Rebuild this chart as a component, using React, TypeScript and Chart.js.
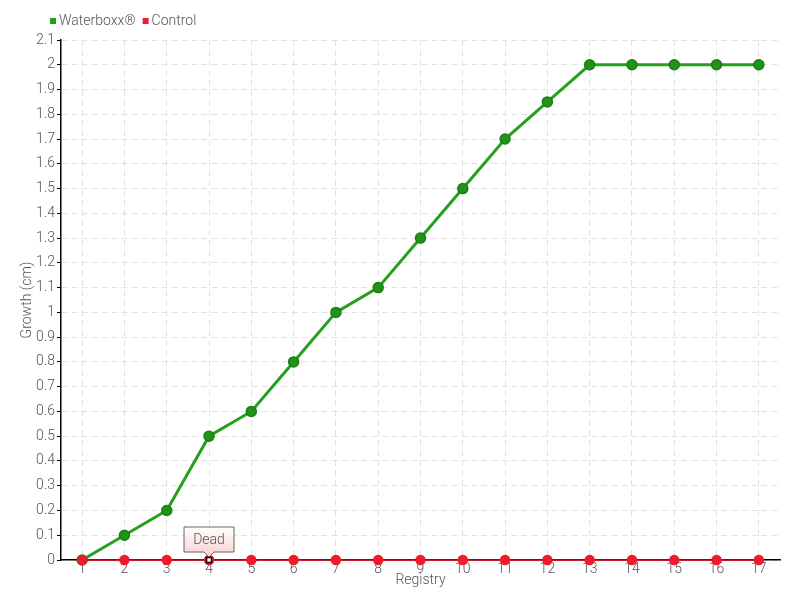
import React, { useEffect, useRef } from "react";
import { Chart, registerables } from "chart.js";

Chart.register(...registerables);

const categories = ["1", "2", "3", "4", "5", "6", "7", "8", "9", "10", "11", "12", "13", "14", "15", "16", "17"];
const waterboxx = [0, 0.1, 0.2, 0.5, 0.6, 0.8, 1.0, 1.1, 1.3, 1.5, 1.7, 1.85, 2, 2, 2, 2, 2];
const control = [0, 0, 0, 0, 0, 0, 0, 0, 0, 0, 0, 0, 0, 0, 0, 0, 0];
const deadIndex = 3;
const deadLabel = "Dead";

const FONT = "Roboto, 'DejaVu Sans Condensed', sans-serif";
const TEXT = "#555";
const WEIGHT = "300";

const overlayPlugin = {
  id: "overlay",
  afterDatasetsDraw(chart: any) {
    const ctx = chart.ctx;
    const meta = chart.getDatasetMeta(1);
    const pt = meta.data[deadIndex];
    if (pt) {
      const x = pt.x, y = pt.y;
      ctx.save();
      ctx.fillStyle = "#fff";
      ctx.strokeStyle = "#000";
      ctx.lineWidth = 1.5;
      ctx.fillRect(x - 2.5, y - 2.5, 5, 5);
      ctx.strokeRect(x - 2.5, y - 2.5, 5, 5);
      const w = 50, h = 25;
      const bx = x - w / 2, by = y - 33;
      const grad = ctx.createLinearGradient(0, by, 0, by + h);
      grad.addColorStop(0, "#fff");
      grad.addColorStop(1, "#fcd6d6");
      ctx.beginPath();
      ctx.moveTo(bx, by);
      ctx.lineTo(bx + w, by);
      ctx.lineTo(bx + w, by + h);
      ctx.lineTo(x + 5, by + h);
      ctx.lineTo(x, by + h + 5);
      ctx.lineTo(x - 5, by + h);
      ctx.lineTo(bx, by + h);
      ctx.closePath();
      ctx.fillStyle = grad;
      ctx.fill();
      ctx.strokeStyle = "#666";
      ctx.lineWidth = 1;
      ctx.stroke();
      ctx.fillStyle = TEXT;
      ctx.font = WEIGHT + " 14px " + FONT;
      ctx.textAlign = "center";
      ctx.textBaseline = "middle";
      ctx.fillText(deadLabel, x, by + h / 2 + 1);
      ctx.restore();
    }
    ctx.save();
    ctx.font = WEIGHT + " 14px " + FONT;
    ctx.textBaseline = "middle";
    ctx.textAlign = "left";
    let lx = 50;
    const ly = 21;
    chart.data.datasets.forEach((ds: any) => {
      ctx.fillStyle = ds.legendColor;
      ctx.fillRect(lx, ly - 3, 6, 6);
      lx += 9;
      ctx.fillStyle = TEXT;
      ctx.fillText(ds.label, lx, ly);
      lx += ctx.measureText(ds.label).width + 7;
    });
    ctx.restore();
  },
};

export default function App() {
  const ref = useRef<HTMLCanvasElement>(null);
  useEffect(() => {
    document.body.style.margin = "0";
    const font = { family: FONT, size: 14, weight: WEIGHT };
    const chart = new Chart(ref.current as HTMLCanvasElement, {
      type: "line",
      data: {
        labels: categories,
        datasets: [
          {
            label: "Waterboxx®",
            data: waterboxx,
            borderColor: "#25a01d",
            backgroundColor: "#1f9418",
            pointBorderColor: "#1a7f15",
            pointBorderWidth: 1.5,
            pointRadius: 5,
            borderWidth: 3,
            tension: 0,
            clip: false,
            legendColor: "#22a01c",
            order: 1,
          } as any,
          {
            label: "Control",
            data: control,
            borderColor: "#d9001b",
            backgroundColor: "#ee1c2a",
            pointBorderColor: "#ee1c2a",
            pointRadius: 4.5,
            borderWidth: 1.5,
            tension: 0,
            clip: false,
            legendColor: "#ee1c2a",
            order: 0,
          } as any,
        ],
      },
      options: {
        animation: false,
        responsive: false,
        layout: { padding: { top: 40, right: 20, left: 0, bottom: 11 } },
        plugins: { legend: { display: false }, tooltip: { enabled: false } },
        scales: {
          x: {
            offset: true,
            afterFit(scale: any) { scale.height = 29; },
            grid: { offset: false, color: "#e2e2e2", drawTicks: false },
            border: { color: "#000", width: 1.5, dash: [6, 4] },
            ticks: { color: TEXT, font, padding: 1 },
            title: { display: true, text: "Registry", color: TEXT, font, padding: 0 },
          },
          y: {
            min: 0,
            max: 2.1,
            afterFit(scale: any) { scale.width = 61; },
            grid: { color: "#e2e2e2", tickLength: 4, drawTicks: true, tickColor: "#000" },
            border: { color: "#000", width: 1.5, dash: [6, 4] },
            ticks: {
              stepSize: 0.1,
              color: TEXT,
              font,
              padding: 2,
              callback: (v: any) => String(Number(Number(v).toFixed(1))),
            },
            title: { display: true, text: "Growth (cm)", color: TEXT, font, padding: { top: 19, bottom: 0 } },
          },
        },
      } as any,
      plugins: [overlayPlugin],
    });
    return () => chart.destroy();
  }, []);
  return (
    <div style={{ position: "absolute", left: 0, top: 0, width: 800, height: 600 }}>
      <canvas ref={ref} width={800} height={600} style={{ width: 800, height: 600 }} />
    </div>
  );
}
